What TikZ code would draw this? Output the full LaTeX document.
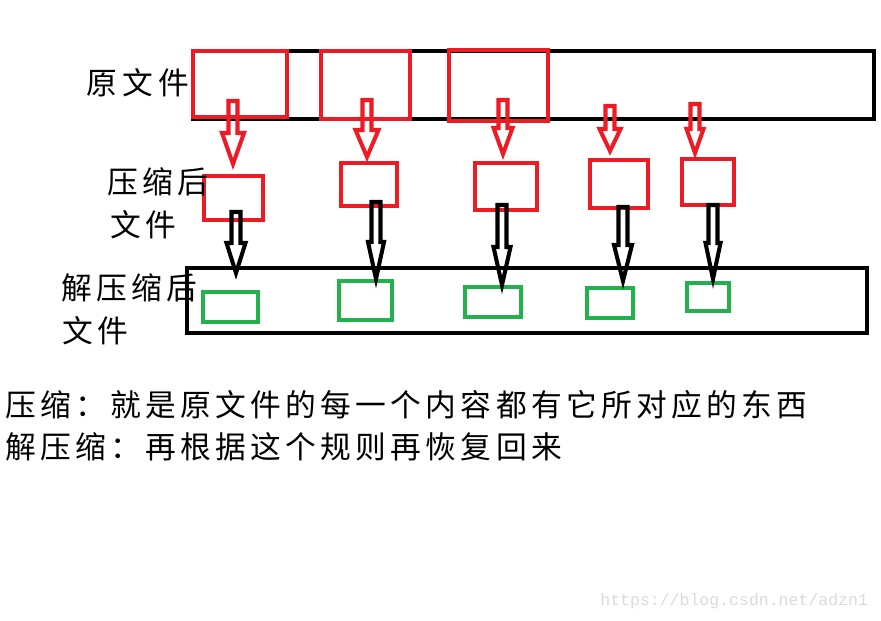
\documentclass[tikz,border=0pt]{standalone}
\usepackage{fontspec}
\newfontfamily\cjk[LetterSpace=14]{Noto Sans CJK SC}
\setmonofont{Liberation Mono}
\usetikzlibrary{fit}
\definecolor{pred}{HTML}{ED1C24}
\definecolor{pgreen}{HTML}{22B14C}
\definecolor{wmark}{HTML}{DADADA}
% hollow block arrow: colour, x, shaft top, head base, tip, head half width
\newcommand\blockarrow[6]{%
  \draw[#1,line width=2.3pt] (#2-4.5,#3) -- (#2+4.5,#3) -- (#2+4.5,#4) -- (#2+#6,#4)
    -- (#2,#5) -- (#2-#6,#4) -- (#2-4.5,#4) -- cycle;}
\begin{document}
\begin{tikzpicture}[x=0.02cm,y=-0.02cm,
  boxline/.style={line width=2.3pt,inner sep=0pt,outer sep=0pt},
  blackbox/.style={boxline,draw=black},
  redbox/.style={boxline,draw=pred},
  greenbox/.style={boxline,draw=pgreen},
  txt/.style={anchor=west,inner sep=0pt,font=\cjk\fontsize{17.5pt}{20pt}\selectfont}]
\useasboundingbox (0,0) rectangle (881,620);

\node[blackbox,fit={(193,51) (874,119)}] (orig) {};
\node[blackbox,fit={(187,268) (867,333)}] (unzip) {};

\node[redbox,fit={(193,51) (287,117)}] (o1) {};
\node[redbox,fit={(321,51) (410,119)}] (o2) {};
\node[redbox,fit={(449,50) (548,121)}] (o3) {};

\node[redbox,fit={(204,176) (263,220)}] (c1) {};
\node[redbox,fit={(341,163) (397,206)}] (c2) {};
\node[redbox,fit={(475,163) (537,210)}] (c3) {};
\node[redbox,fit={(590,160) (648,208)}] (c4) {};
\node[redbox,fit={(682,159) (734,205)}] (c5) {};

\node[greenbox,fit={(203,292) (258,322)}] (u1) {};
\node[greenbox,fit={(339,281) (392,320)}] (u2) {};
\node[greenbox,fit={(465,287) (521,317)}] (u3) {};
\node[greenbox,fit={(587,288) (633,318)}] (u4) {};
\node[greenbox,fit={(687,283) (729,311)}] (u5) {};

\blockarrow{pred}{233}{101}{133}{164}{11}
\blockarrow{pred}{367}{100}{130}{157}{11.5}
\blockarrow{pred}{503}{100}{128}{154}{9.5}
\blockarrow{pred}{610}{106}{129}{151}{10.5}
\blockarrow{pred}{695}{104}{129}{153}{8.5}

\blockarrow{black}{236}{212}{243}{273}{9.5}
\blockarrow{black}{376}{202}{242}{279}{8}
\blockarrow{black}{502}{205}{247}{285}{8.5}
\blockarrow{black}{623}{207}{245}{281}{9}
\blockarrow{black}{713}{205}{243}{279}{7.5}

\node[txt] (lorig) at (86,83) {原\hspace{3pt}文\hspace{3pt}件};
\node[txt] (lzip1) at (107,182) {压缩后};
\node[txt] (lzip2) at (110,225) {文件};
\node[txt] (lunz1) at (61,288) {解压缩后};
\node[txt] (lunz2) at (62,331) {文件};

\node[txt] (note1) at (5,405) {压缩：就是原文件的每一个内容都有它所对应的东西};
\node[txt] (note2) at (5,447) {解压缩：再根据这个规则再恢复回来};

\node[anchor=west,inner sep=0pt,text=wmark,font=\ttfamily\fontsize{9.4pt}{11pt}\selectfont] (wm) at (600,601) {https://blog.csdn.net/adzn1};
\end{tikzpicture}
\end{document}
